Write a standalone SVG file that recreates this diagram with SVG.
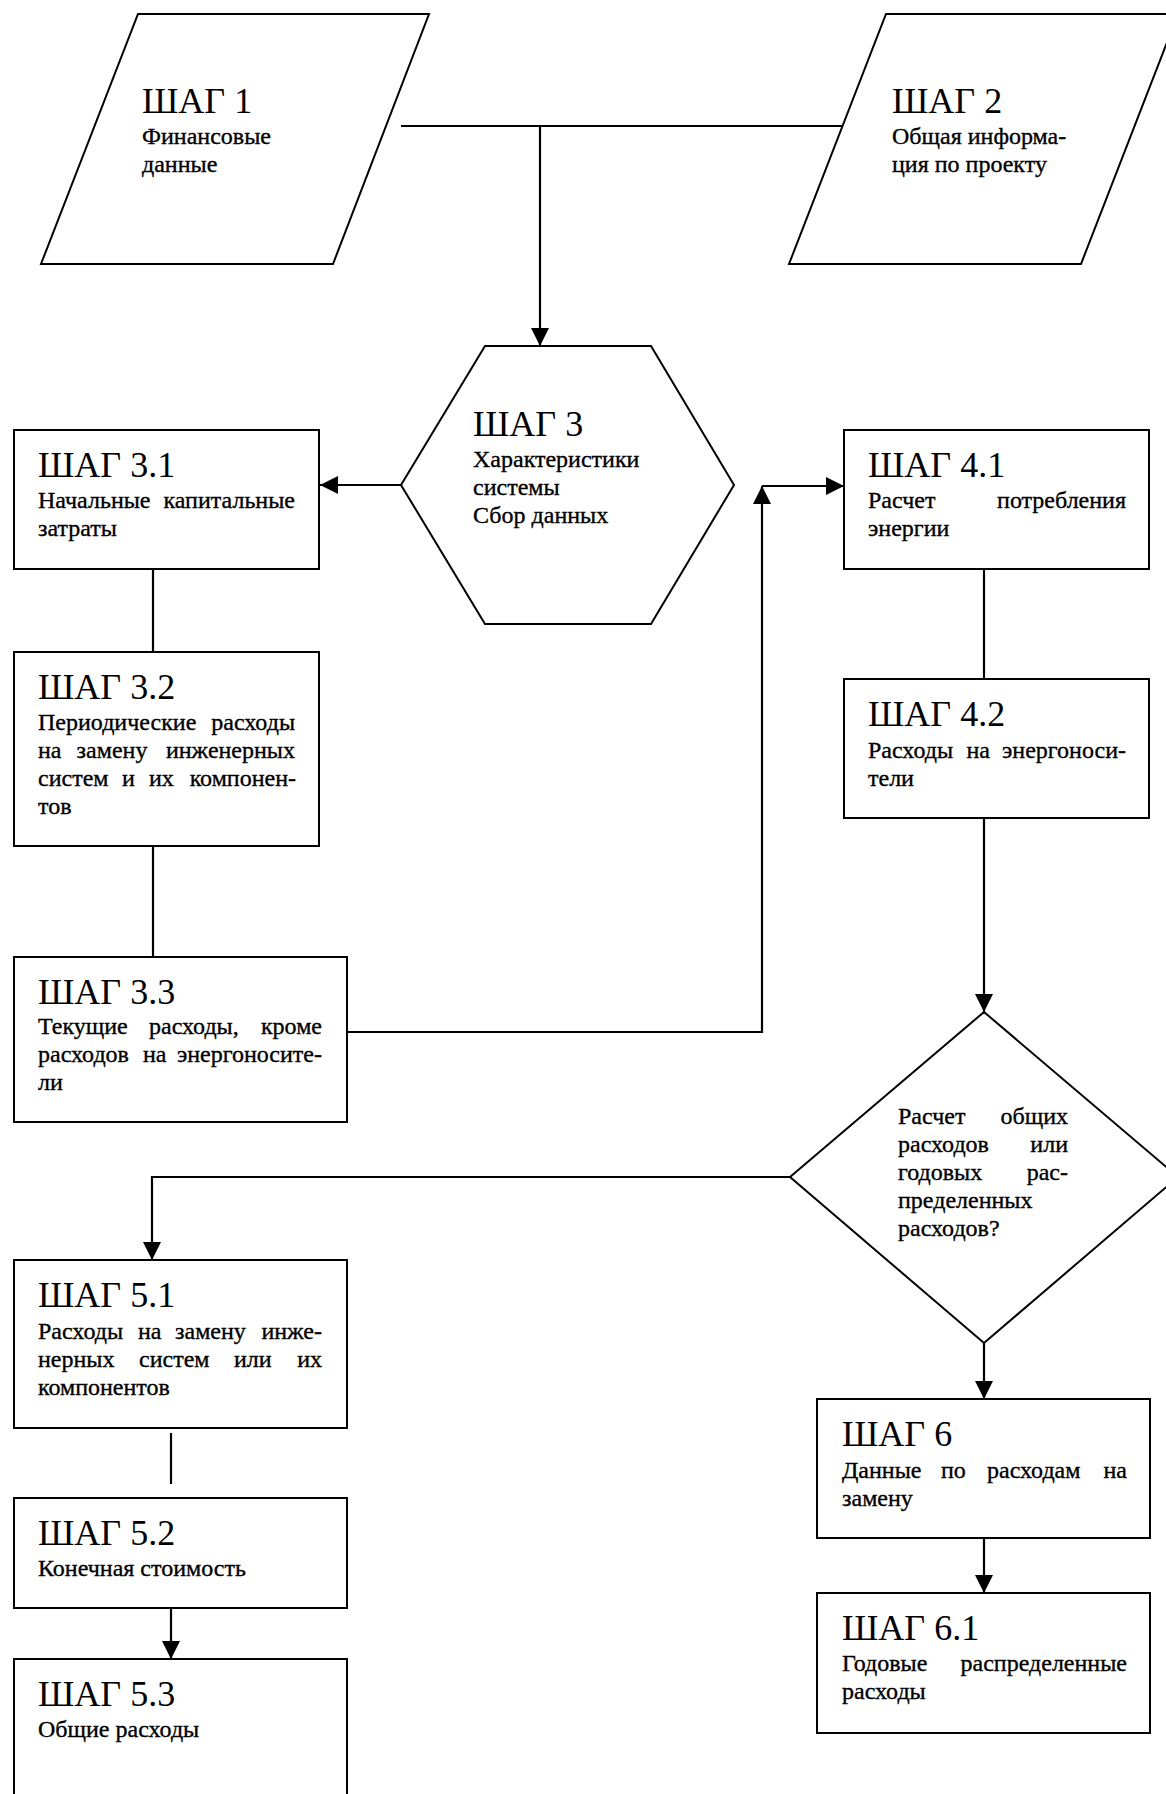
<svg xmlns="http://www.w3.org/2000/svg" width="1166" height="1794" viewBox="0 0 1166 1794">
<style>
.shape{fill:#fff;stroke:#000;stroke-width:2}
.ln{fill:none;stroke:#000;stroke-width:2.2}
.t{font-family:"Liberation Serif","Times New Roman",serif;font-size:36px;fill:#000}
.b{font-family:"Liberation Serif","Times New Roman",serif;font-size:24px;fill:#000;stroke:#000;stroke-width:0.35}
.e{text-anchor:end}
</style>
<defs>
<marker id="arr" markerUnits="userSpaceOnUse" markerWidth="18" markerHeight="18" refX="18" refY="9" orient="auto">
<path d="M0,0 L18,9 L0,18 z" fill="#000"/>
</marker>
</defs>
<rect width="1166" height="1794" fill="#fff"/>

<g id="connectors">
<line class="ln" x1="401" y1="126" x2="845" y2="126"/>
<line class="ln" x1="540" y1="126" x2="540" y2="346" marker-end="url(#arr)"/>
<line class="ln" x1="401" y1="485" x2="320" y2="485" marker-end="url(#arr)"/>
<line class="ln" x1="153" y1="569" x2="153" y2="652"/>
<line class="ln" x1="153" y1="846" x2="153" y2="957"/>
<polyline class="ln" points="347,1032 762,1032 762,486" marker-end="url(#arr)"/>
<line class="ln" x1="762" y1="486" x2="844" y2="486" marker-end="url(#arr)"/>
<line class="ln" x1="984" y1="569" x2="984" y2="679"/>
<line class="ln" x1="984" y1="818" x2="984" y2="1012" marker-end="url(#arr)"/>
<polyline class="ln" points="790,1177 152,1177 152,1260" marker-end="url(#arr)"/>
<line class="ln" x1="984" y1="1343" x2="984" y2="1399" marker-end="url(#arr)"/>
<line class="ln" x1="171" y1="1433" x2="171" y2="1484"/>
<line class="ln" x1="171" y1="1608" x2="171" y2="1659" marker-end="url(#arr)"/>
<line class="ln" x1="984" y1="1538" x2="984" y2="1593" marker-end="url(#arr)"/>
</g>

<g id="step1">
<polygon class="shape" points="138,14 429,14 333,264 41,264"/>
<text class="t" x="142" y="113">ШАГ 1</text>
<text class="b" x="142" y="144">Финансовые</text>
<text class="b" x="142" y="172">данные</text>
</g>

<g id="step2">
<polygon class="shape" points="886,14 1178,14 1081,264 789,264"/>
<text class="t" x="892" y="113">ШАГ 2</text>
<text class="b" x="892" y="144">Общая информа-</text>
<text class="b" x="892" y="172">ция по проекту</text>
</g>

<g id="step3">
<polygon class="shape" points="485,346 651,346 734,485 651,624 485,624 401,485"/>
<text class="t" x="473" y="436">ШАГ 3</text>
<text class="b" x="473" y="467">Характеристики</text>
<text class="b" x="473" y="495">системы</text>
<text class="b" x="473" y="523">Сбор данных</text>
</g>

<g id="step3_1">
<rect class="shape" x="14" y="430" width="305" height="139"/>
<text class="t" x="38" y="477">ШАГ 3.1</text>
<text class="b" y="508"><tspan x="38">Начальные</tspan> <tspan x="295" class="e">капитальные</tspan></text>
<text class="b" x="38" y="536">затраты</text>
</g>

<g id="step3_2">
<rect class="shape" x="14" y="652" width="305" height="194"/>
<text class="t" x="38" y="699">ШАГ 3.2</text>
<text class="b" y="730"><tspan x="38">Периодические</tspan> <tspan x="295" class="e">расходы</tspan></text>
<text class="b" y="758"><tspan x="38">на</tspan> <tspan x="76.6">замену</tspan> <tspan x="295" class="e">инженерных</tspan></text>
<text class="b" y="786"><tspan x="38">систем</tspan> <tspan x="122">и</tspan> <tspan x="149">их</tspan> <tspan x="296" class="e">компонен-</tspan></text>
<text class="b" x="38" y="814">тов</text>
</g>

<g id="step3_3">
<rect class="shape" x="14" y="957" width="333" height="165"/>
<text class="t" x="38" y="1004">ШАГ 3.3</text>
<text class="b" y="1034"><tspan x="38">Текущие</tspan> <tspan x="149">расходы,</tspan> <tspan x="322" class="e">кроме</tspan></text>
<text class="b" y="1062"><tspan x="38">расходов</tspan> <tspan x="143">на</tspan> <tspan x="322" class="e">энергоносите-</tspan></text>
<text class="b" x="38" y="1090">ли</text>
</g>

<g id="step4_1">
<rect class="shape" x="844" y="430" width="305" height="139"/>
<text class="t" x="868" y="477">ШАГ 4.1</text>
<text class="b" y="508"><tspan x="868">Расчет</tspan> <tspan x="1126" class="e">потребления</tspan></text>
<text class="b" x="868" y="536">энергии</text>
</g>

<g id="step4_2">
<rect class="shape" x="844" y="679" width="305" height="139"/>
<text class="t" x="868" y="726">ШАГ 4.2</text>
<text class="b" y="758"><tspan x="868">Расходы</tspan> <tspan x="966.5">на</tspan> <tspan x="1126" class="e">энергоноси-</tspan></text>
<text class="b" x="868" y="786">тели</text>
</g>

<g id="decision">
<polygon class="shape" points="984,1012 1178,1177 984,1343 790,1177"/>
<text class="b" y="1124"><tspan x="898">Расчет</tspan> <tspan x="1068" class="e">общих</tspan></text>
<text class="b" y="1152"><tspan x="898">расходов</tspan> <tspan x="1068" class="e">или</tspan></text>
<text class="b" y="1180"><tspan x="898">годовых</tspan> <tspan x="1068" class="e">рас-</tspan></text>
<text class="b" x="898" y="1208">пределенных</text>
<text class="b" x="898" y="1236">расходов?</text>
</g>

<g id="step5_1">
<rect class="shape" x="14" y="1260" width="333" height="168"/>
<text class="t" x="38" y="1307">ШАГ 5.1</text>
<text class="b" y="1339"><tspan x="38">Расходы</tspan> <tspan x="138">на</tspan> <tspan x="175">замену</tspan> <tspan x="322" class="e">инже-</tspan></text>
<text class="b" y="1367"><tspan x="38">нерных</tspan> <tspan x="139">систем</tspan> <tspan x="234">или</tspan> <tspan x="322" class="e">их</tspan></text>
<text class="b" x="38" y="1395">компонентов</text>
</g>

<g id="step5_2">
<rect class="shape" x="14" y="1498" width="333" height="110"/>
<text class="t" x="38" y="1545">ШАГ 5.2</text>
<text class="b" x="38" y="1576">Конечная стоимость</text>
</g>

<g id="step5_3">
<rect class="shape" x="14" y="1659" width="333" height="160"/>
<text class="t" x="38" y="1706">ШАГ 5.3</text>
<text class="b" x="38" y="1737">Общие расходы</text>
</g>

<g id="step6">
<rect class="shape" x="817" y="1399" width="333" height="139"/>
<text class="t" x="842" y="1446">ШАГ 6</text>
<text class="b" y="1478"><tspan x="842">Данные</tspan> <tspan x="941">по</tspan> <tspan x="987">расходам</tspan> <tspan x="1127" class="e">на</tspan></text>
<text class="b" x="842" y="1506">замену</text>
</g>

<g id="step6_1">
<rect class="shape" x="817" y="1593" width="333" height="140"/>
<text class="t" x="842" y="1640">ШАГ 6.1</text>
<text class="b" y="1671"><tspan x="842">Годовые</tspan> <tspan x="1127" class="e">распределенные</tspan></text>
<text class="b" x="842" y="1699">расходы</text>
</g>
</svg>
